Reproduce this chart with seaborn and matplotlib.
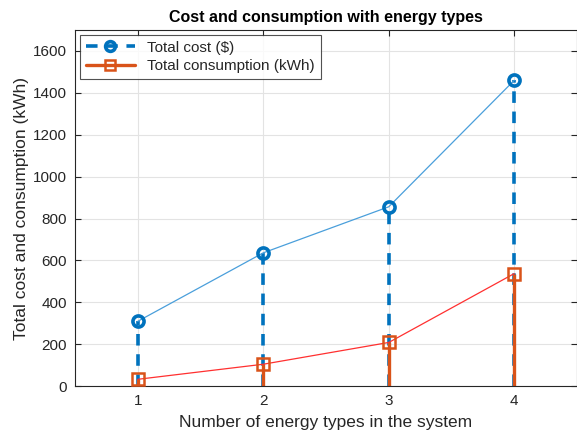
import numpy as np
import pandas as pd
import matplotlib
matplotlib.use("Agg")
import matplotlib.pyplot as plt
import seaborn as sns
from matplotlib.lines import Line2D

energy_types = [1, 2, 3, 4]
total_cost = [309, 636, 856, 1460]
total_consumption = [32, 104, 208, 537]

sns.set_style("whitegrid")
plt.rcParams["font.family"] = ["Liberation Sans", "DejaVu Sans"]

df = pd.DataFrame({
    "types": energy_types,
    "cost": total_cost,
    "consumption": total_consumption,
})

blue = "#0072BD"
orange = "#D95319"

fig = plt.figure(figsize=(5.77, 4.40), dpi=100)
ax = fig.add_axes([0.130, 0.1227, 0.870, 0.809])

# stems
ax.vlines(df["types"], 0, df["cost"], colors=blue, linewidth=2.6,
          linestyles=(0, (3.2, 2.4)), zorder=2)
ax.vlines(df["types"], 0, df["consumption"], colors=orange, linewidth=2.4,
          zorder=2)

# thin connecting lines
sns.lineplot(data=df, x="types", y="cost", color="#4A9FDB", linewidth=0.9,
             ax=ax, zorder=3)
sns.lineplot(data=df, x="types", y="consumption", color="#FF3030", linewidth=0.9,
             ax=ax, zorder=3)

# markers
ax.plot(df["types"], df["cost"], linestyle="none", marker="o", markersize=8,
        markerfacecolor="none", markeredgecolor=blue, markeredgewidth=2.6, zorder=4)
ax.plot(df["types"], df["consumption"], linestyle="none", marker="s", markersize=8,
        markerfacecolor="none", markeredgecolor=orange, markeredgewidth=1.8, zorder=4)

ax.set_xlim(0.5, 4.5)
ax.set_ylim(0, 1700)
ax.set_xticks(energy_types)
ax.set_yticks(np.arange(0, 1601, 200))

ax.grid(True, color="#E3E3E3", linewidth=0.8)
for side in ["left", "bottom", "top", "right"]:
    ax.spines[side].set_visible(True)
    ax.spines[side].set_color("#262626")
    ax.spines[side].set_linewidth(0.8)
ax.tick_params(direction="in", length=4, width=0.8, colors="#262626",
               labelsize=11, top=True, right=True, left=True, bottom=True,
               labelcolor="#262626", pad=6)

ax.set_xlabel("Number of energy types in the system", fontsize=12.5,
              color="#262626", labelpad=5)
ax.set_ylabel("Total cost and consumption (kWh)", fontsize=12.5,
              color="#262626", labelpad=3)
ax.set_title("Cost and consumption with energy types", fontsize=11.5,
             fontweight="bold", color="black")

handles = [
    Line2D([0], [0], color=blue, linewidth=2.6, linestyle=(0, (3.2, 2.4)), marker="o",
           markersize=7, markerfacecolor="none", markeredgewidth=2.6),
    Line2D([0], [0], color=orange, linewidth=2.4, marker="s", markersize=7,
           markerfacecolor="none", markeredgewidth=1.8),
]
leg = ax.legend(handles, ["Total cost ($)", "Total consumption (kWh)"],
                loc="upper left", bbox_to_anchor=(0.0, 1.0), fontsize=11,
                frameon=True, fancybox=False, edgecolor="#262626",
                handlelength=3.2, borderaxespad=0.3, labelspacing=0.3)
leg.get_frame().set_linewidth(0.8)

fig.savefig("out.png", dpi=100)
